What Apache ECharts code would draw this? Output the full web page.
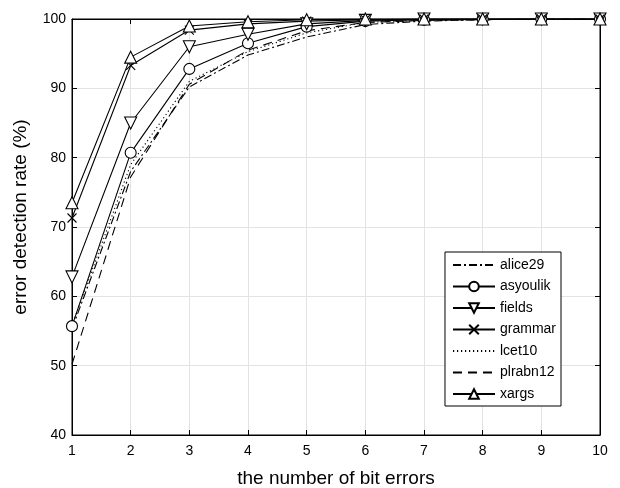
<!DOCTYPE html>
<html><head><meta charset="utf-8">
<script src="https://cdn.jsdelivr.net/npm/echarts@6/dist/echarts.min.js"></script>
<style>html,body{margin:0;padding:0;background:#fff}#c{width:620px;height:488px}</style>
</head><body><div id="c"></div>
<script>
const xValues = [1,2,3,4,5,6,7,8,9,10];
const alice29  = [55.3, 78.0, 90.2, 94.8, 97.4, 99.2, 99.7, 99.9, 100, 100];
const asyoulik = [55.7, 80.7, 92.8, 96.5, 98.9, 99.7, 99.9, 100, 100, 100];
const fields   = [62.8, 85.0, 96.0, 97.8, 99.3, 99.8, 100, 100, 100, 100];
const grammar  = [71.3, 93.3, 98.4, 99.3, 99.7, 99.9, 100, 100, 100, 100];
const lcet10   = [55.8, 79.0, 91.0, 95.3, 98.0, 99.5, 99.8, 99.9, 100, 100];
const plrabn12 = [50.2, 77.2, 90.6, 95.5, 98.3, 99.5, 99.8, 99.9, 100, 100];
const xargs    = [73.5, 94.5, 99.0, 99.6, 99.9, 100, 100, 100, 100, 100];
const seriesNames = ['alice29','asyoulik','fields','grammar','lcet10','plrabn12','xargs'];

const FONT = 'Liberation Sans, Arial, sans-serif';
const pair = a => a.map((v,i)=>[xValues[i], v]);
const triDown = 'path://M0,0L10,0L5,9Z';
const triUp = 'path://M5,0L10,9L0,9Z';
const cross = 'path://M0,0L10,10M10,0L0,10';

function mk(name, data, dash, symbol, size) {
  return {
    name, type:'line', data: pair(data),
    symbol: symbol || 'none', symbolSize: size || 10,
    showSymbol: !!symbol,
    lineStyle:{color:'#000', width:1.1, type: dash},
    itemStyle:{color: symbol===cross ? '#000' : '#fff', borderColor:'#000', borderWidth:1.1},
    emphasis:{disabled:true}, animation:false, z: 3
  };
}

const legendData = seriesNames.map(n => {
  const noMarker = (n === 'alice29' || n === 'lcet10' || n === 'plrabn12');
  return noMarker ? {name:n, itemStyle:{opacity:0}} : {name:n};
});

const chart = echarts.init(document.getElementById('c'));
chart.setOption({
  animation:false,
  backgroundColor:'#fff',
  grid:{left:72, right:20, top:19, bottom:53, containLabel:false, outerBoundsMode:'none',
        show:true, borderColor:'#000', borderWidth:1, backgroundColor:'transparent'},
  legend:{
    data: legendData, orient:'vertical', right:59, top:252,
    itemWidth:42, itemHeight:12, itemGap:7.5,
    backgroundColor:'#fff', borderColor:'#000', borderWidth:1,
    padding:[6,5,5,7],
    textStyle:{fontFamily:FONT, fontSize:14, color:'#000'}
  },
  xAxis:[{
    type:'value', min:1, max:10, interval:1,
    name:'the number of bit errors', nameLocation:'middle', nameGap:34,
    nameTextStyle:{fontFamily:FONT, fontSize:19, color:'#000'},
    axisLine:{show:true, lineStyle:{color:'#000', width:1}},
    axisTick:{show:true, inside:true, length:5, lineStyle:{color:'#000'}},
    axisLabel:{fontFamily:FONT, fontSize:14, color:'#000', margin:9},
    splitLine:{show:true, lineStyle:{color:'#e3e3e3', width:1}}
  },{
    type:'value', min:1, max:10, interval:1, position:'top',
    axisLine:{show:true, lineStyle:{color:'#000'}},
    axisTick:{show:true, inside:true, length:5, lineStyle:{color:'#000'}},
    axisLabel:{show:false}, splitLine:{show:false}
  }],
  yAxis:[{
    type:'value', min:40, max:100, interval:10,
    name:'error detection rate (%)', nameLocation:'middle', nameGap:42,
    nameTextStyle:{fontFamily:FONT, fontSize:19, color:'#000', padding:[0,0,0,20]},
    axisLine:{show:true, lineStyle:{color:'#000', width:1}},
    axisTick:{show:true, inside:true, length:5, lineStyle:{color:'#000'}},
    axisLabel:{fontFamily:FONT, fontSize:14, color:'#000', margin:6},
    splitLine:{show:true, lineStyle:{color:'#e3e3e3', width:1}}
  },{
    type:'value', min:40, max:100, interval:10, position:'right',
    axisLine:{show:true, lineStyle:{color:'#000'}},
    axisTick:{show:true, inside:true, length:5, lineStyle:{color:'#000'}},
    axisLabel:{show:false}, splitLine:{show:false}
  }],
  series:[
    mk('alice29', alice29, [8,3,2,3]),
    mk('asyoulik', asyoulik, 'solid', 'circle', 11),
    mk('fields', fields, 'solid', triDown, 12),
    mk('grammar', grammar, 'solid', cross, 9),
    mk('lcet10', lcet10, [1.2,2.8]),
    mk('plrabn12', plrabn12, [9,6]),
    mk('xargs', xargs, 'solid', triUp, 12)
  ]
});
</script></body></html>
